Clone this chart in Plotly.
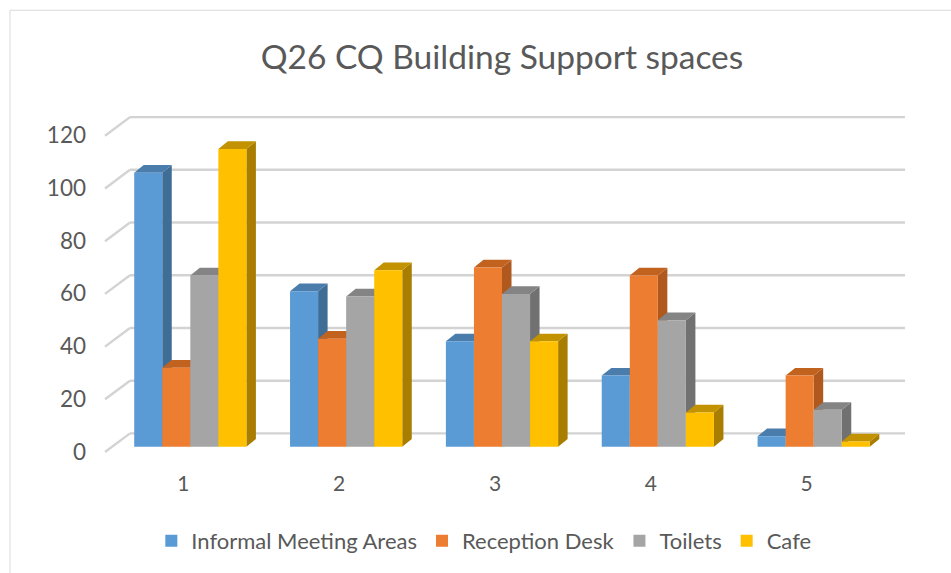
import plotly.graph_objects as go

# ---- data ----
categories = ["1", "2", "3", "4", "5"]
series_names = ["Informal Meeting Areas", "Reception Desk", "Toilets", "Cafe"]
informal_meeting = [104, 59, 40, 27, 4]
reception_desk = [30, 41, 68, 65, 27]
toilets = [65, 57, 58, 48, 14]
cafe = [113, 67, 40, 13, 2]
y_ticks = [0, 20, 40, 60, 80, 100, 120]

series_values = [informal_meeting, reception_desk, toilets, cafe]
front_colors = ["#5B9BD5", "#ED7D31", "#A5A5A5", "#FFC000"]
side_colors = ["#3E6D96", "#B0591E", "#717171", "#A87D00"]
top_colors = ["#4A7DAB", "#C2621F", "#848484", "#C29200"]

W, H = 951, 573
L, R, T, B = 89, 36, 105, 103
pw, ph = W - L - R, H - T - B
xr = [-0.65, 4.65]
px_per_unit_y = 2.643
zero_px = 447.7
ymin = -((H - B) - zero_px) / px_per_unit_y
yr = [ymin, ymin + ph / px_per_unit_y]
px_per_unit_x = pw / (xr[1] - xr[0])

def px2x(p):
    return (p - L) / px_per_unit_x + xr[0]

bar_w = 0.18
depth_dx = 9.5 / px_per_unit_x
depth_dy = 7.7 / px_per_unit_y
wall_dy = (zero_px - 434.3) / px_per_unit_y
floor_dy = (zero_px - 453.0) / px_per_unit_y
x_idx = list(range(len(categories)))

shapes = []
# back-wall gridlines with left-side diagonal
for v in y_ticks:
    shapes.append(dict(type="line", xref="x", yref="y", layer="below",
                       x0=px2x(105), y0=v + floor_dy, x1=px2x(130), y1=v + wall_dy,
                       line=dict(color="#D3D3D3", width=2.4)))
    shapes.append(dict(type="line", xref="x", yref="y", layer="below",
                       x0=px2x(130), y0=v + wall_dy, x1=px2x(905), y1=v + wall_dy,
                       line=dict(color="#D3D3D3", width=2.4)))

fig = go.Figure()
for i, (name, vals) in enumerate(zip(series_names, series_values)):
    off = -2 * bar_w + i * bar_w
    fig.add_trace(go.Bar(
        name=name, x=x_idx, y=vals, width=bar_w, offset=off,
        marker=dict(color=front_colors[i], line=dict(width=0)),
        hoverinfo="y+name",
    ))
    for xi, v in zip(x_idx, vals):
        xl = xi + off
        xrt = xl + bar_w
        side = (f"M {xrt} 0 L {xrt + depth_dx} {depth_dy} "
                f"L {xrt + depth_dx} {v + depth_dy} L {xrt} {v} Z")
        top = (f"M {xl} {v} L {xrt} {v} L {xrt + depth_dx} {v + depth_dy} "
               f"L {xl + depth_dx} {v + depth_dy} Z")
        shapes.append(dict(type="path", xref="x", yref="y", layer="below", path=side,
                           fillcolor=side_colors[i], line=dict(width=0)))
        shapes.append(dict(type="path", xref="x", yref="y", layer="below", path=top,
                           fillcolor=top_colors[i], line=dict(width=0)))

# chart border
def pxp(p):
    return (p - L) / pw
def pyp(p):
    return ((H - B) - p) / ph
shapes.append(dict(type="rect", xref="paper", yref="paper",
                   x0=pxp(10), y0=pyp(600), x1=pxp(990), y1=pyp(10),
                   line=dict(color="#D9D9D9", width=1), fillcolor="rgba(0,0,0,0)"))

fig.update_layout(
    width=W, height=H,
    margin=dict(l=L, r=R, t=T, b=B),
    paper_bgcolor="white", plot_bgcolor="white",
    barmode="overlay",
    font=dict(family="Lato, 'Open Sans', sans-serif", color="#595959"),
    title=dict(text="Q26 CQ Building Support spaces", x=0.5, xref="paper", xanchor="center",
               y=1 - 57 / H, yanchor="middle",
               font=dict(size=33.5, color="#595959", family="Lato, sans-serif")),
    xaxis=dict(range=xr, tickvals=x_idx, ticktext=categories, showgrid=False,
               zeroline=False, showline=False, ticks="", ticklabelshift=-7,
               tickfont=dict(size=21, color="#595959")),
    yaxis=dict(range=yr, tickvals=y_ticks, showgrid=False, zeroline=False,
               showline=False, ticks="", ticklabelshift=5, ticklabelstandoff=2,
               tickfont=dict(size=22.5, color="#595959")),
    legend=dict(orientation="h", x=0.478, xanchor="center", y=-(541 - (H - B)) / ph,
                yanchor="middle", font=dict(size=22, color="#595959"),
                bgcolor="rgba(0,0,0,0)"),
    shapes=shapes,
    showlegend=True,
)

fig.write_html("out.html", config={"displayModeBar": False},
               post_script="document.body.style.margin='0';")
